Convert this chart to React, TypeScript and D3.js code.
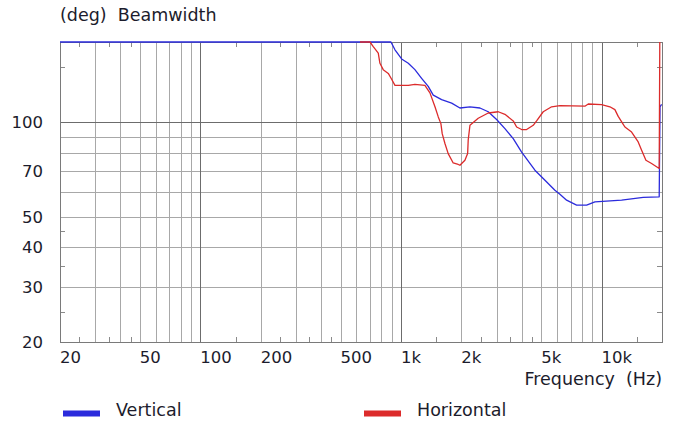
import React, { useEffect, useRef } from 'react';
import * as d3 from 'd3';

// Frequency (Hz) / beamwidth (deg)
const verticalFreq = [20, 892, 934, 1008, 1088, 1174, 1268, 1368, 1449, 1595, 1790, 1968, 2208, 2476, 2723, 2998, 3298, 3628, 3995, 4653, 5118, 5853, 6199, 6693, 7508, 8421, 9264, 12580, 16120, 19370, 19550, 19900];
const verticalDeg = [180, 180, 170, 159, 154, 147, 138, 130, 122, 118, 115, 111, 112, 111, 108, 102, 95.4, 88.7, 80.4, 70.4, 66.2, 60.8, 59, 56.5, 54.5, 54.5, 55.8, 56.5, 57.7, 57.9, 112, 114];

const horizontalFreq = [625, 701, 728, 771, 786, 816, 865, 899, 934, 1088, 1174, 1317, 1395, 1478, 1535, 1582, 1606, 1657, 1720, 1822, 1930, 1968, 2084, 2150, 2164, 2208, 2428, 2723, 3055, 3298, 3628, 3773, 3995, 4231, 4563, 4744, 5118, 5636, 6199, 8258, 8580, 10000, 11000, 11650, 12100, 12820, 13070, 14110, 15220, 15830, 16630, 17750, 19370, 19500];
const horizontalDeg = [180, 180, 174, 166, 154, 147, 143, 137, 131, 131, 132, 131, 124, 112, 104, 99, 92, 85.6, 79.5, 74.2, 73.4, 73, 75.7, 79.5, 87.7, 97.8, 103, 107, 108, 106, 101, 96.6, 94.8, 94.8, 97.8, 101, 108, 112, 113, 112.5, 114.3, 113.7, 112, 109.7, 104.4, 98.5, 96.6, 93.1, 86.6, 81.5, 75.7, 73.9, 71.3, 180];

const xTickLabels = [20, 50, 100, 200, 500, 1000, 2000, 5000, 10000];
const xGrid = [30, 40, 50, 60, 70, 80, 90, 200, 300, 400, 500, 600, 700, 800, 900, 2000, 3000, 4000, 5000, 6000, 7000, 8000, 9000];
const xGridMajor = [100, 1000, 10000];
const xMinor = [25, 35, 45, 150, 250, 350, 450, 1500, 2500, 3500, 4500, 15000];

const yTickLabels = [20, 30, 40, 50, 70, 100];
const yGrid = [30, 40, 50, 60, 70, 80, 90];
const yGridMajor = [100];
const yMinor = [25, 35, 45, 150];

const series = [
  { name: 'Vertical', freq: verticalFreq, deg: verticalDeg, color: '#2b2bdc' },
  { name: 'Horizontal', freq: horizontalFreq, deg: horizontalDeg, color: '#dc2b2b' },
];

export default function App() {
  const svgRef = useRef<SVGSVGElement>(null);

  useEffect(() => {
    if (!svgRef.current) return;
    const svg = d3.select(svgRef.current);
    svg.selectAll('*').remove();

    const left = 60, right = 662, top = 42, bottom = 342;
    const x = d3.scaleLog().domain([20, 20000]).range([left, right]);
    const y = d3.scaleLog().domain([20, 180]).range([bottom, top]);
    const font = '"DejaVu Sans", Verdana, sans-serif';
    const textColor = '#1c1c2c';
    const numSize = 16.5;
    const wordSize = 17.5;

    svg.append('rect').attr('width', 678).attr('height', 423).attr('fill', '#ffffff');

    const grid = svg.append('g').attr('shape-rendering', 'crispEdges');
    grid.selectAll('line.xg')
      .data(xGrid)
      .join('line')
      .attr('x1', d => Math.round(x(d)) + 0.5).attr('x2', d => Math.round(x(d)) + 0.5)
      .attr('y1', top).attr('y2', bottom)
      .attr('stroke', '#a8a8a8');
    grid.selectAll('line.yg')
      .data(yGrid)
      .join('line')
      .attr('class', 'yg')
      .attr('x1', left).attr('x2', right)
      .attr('y1', d => Math.round(y(d)) + 0.5).attr('y2', d => Math.round(y(d)) + 0.5)
      .attr('stroke', '#a8a8a8');
    grid.selectAll('line.xgm')
      .data(xGridMajor)
      .join('line')
      .attr('class', 'xgm')
      .attr('x1', d => Math.round(x(d)) + 0.5).attr('x2', d => Math.round(x(d)) + 0.5)
      .attr('y1', top).attr('y2', bottom)
      .attr('stroke', '#6c6c6c');
    grid.selectAll('line.ygm')
      .data(yGridMajor)
      .join('line')
      .attr('class', 'ygm')
      .attr('x1', left).attr('x2', right)
      .attr('y1', d => Math.round(y(d)) + 0.5).attr('y2', d => Math.round(y(d)) + 0.5)
      .attr('stroke', '#6c6c6c');

    // short minor ticks on all four edges
    const tickLen = 5;
    xMinor.forEach(f => {
      const px = Math.round(x(f)) + 0.5;
      grid.append('line').attr('x1', px).attr('x2', px).attr('y1', top).attr('y2', top + tickLen).attr('stroke', '#8a8a8a');
      grid.append('line').attr('x1', px).attr('x2', px).attr('y1', bottom - tickLen).attr('y2', bottom).attr('stroke', '#8a8a8a');
    });
    yMinor.forEach(v => {
      const py = Math.round(y(v)) + 0.5;
      grid.append('line').attr('x1', left).attr('x2', left + tickLen).attr('y1', py).attr('y2', py).attr('stroke', '#8a8a8a');
      grid.append('line').attr('x1', right - tickLen).attr('x2', right).attr('y1', py).attr('y2', py).attr('stroke', '#8a8a8a');
    });

    grid.append('rect')
      .attr('x', left + 0.5).attr('y', top + 0.5)
      .attr('width', right - left).attr('height', bottom - top)
      .attr('fill', 'none').attr('stroke', '#7a7a7a');

    svg.append('clipPath').attr('id', 'plot-clip')
      .append('rect').attr('x', left).attr('y', top - 1).attr('width', right - left + 1).attr('height', bottom - top + 2);

    const line = d3.line<[number, number]>()
      .x(d => x(d[0]))
      .y(d => y(Math.min(d[1], 180)));

    const lines = svg.append('g').attr('clip-path', 'url(#plot-clip)');
    series.forEach(s => {
      const pts = s.freq.map((f, i) => [f, s.deg[i]] as [number, number]);
      lines.append('path')
        .datum(pts)
        .attr('d', line)
        .attr('fill', 'none')
        .attr('stroke', s.color)
        .attr('stroke-width', 1.3)
        .attr('stroke-linejoin', 'round');
    });

    const fmtHz = (f: number) => (f >= 1000 ? `${f / 1000}k` : `${f}`);

    svg.append('g')
      .selectAll('text')
      .data(xTickLabels)
      .join('text')
      .attr('x', d => x(d))
      .attr('y', 363)
      .attr('font-family', font)
      .attr('font-size', numSize)
      .attr('fill', textColor)
      .text(d => fmtHz(d));

    svg.append('g')
      .selectAll('text')
      .data(yTickLabels)
      .join('text')
      .attr('x', 43)
      .attr('y', d => y(d) + 6)
      .attr('text-anchor', 'end')
      .attr('font-family', font)
      .attr('font-size', numSize)
      .attr('fill', textColor)
      .text(d => d);

    svg.append('text')
      .attr('x', 60).attr('y', 21)
      .attr('font-family', font).attr('font-size', wordSize).attr('fill', textColor)
      .attr('xml:space', 'preserve')
      .text('(deg)  Beamwidth');

    svg.append('text')
      .attr('x', 662).attr('y', 385)
      .attr('text-anchor', 'end')
      .attr('font-family', font).attr('font-size', wordSize).attr('fill', textColor)
      .attr('xml:space', 'preserve')
      .text('Frequency  (Hz)');

    const legendX = [63, 364];
    series.forEach((s, i) => {
      svg.append('rect')
        .attr('x', legendX[i]).attr('y', 410.5)
        .attr('width', 37).attr('height', 6)
        .attr('fill', s.color);
      svg.append('text')
        .attr('x', legendX[i] + 53).attr('y', 416)
        .attr('font-family', font).attr('font-size', wordSize).attr('fill', textColor)
        .text(s.name);
    });
  }, []);

  return (
    <svg
      ref={svgRef}
      width={678}
      height={423}
      style={{ position: 'absolute', left: 0, top: 0, display: 'block' }}
    />
  );
}
